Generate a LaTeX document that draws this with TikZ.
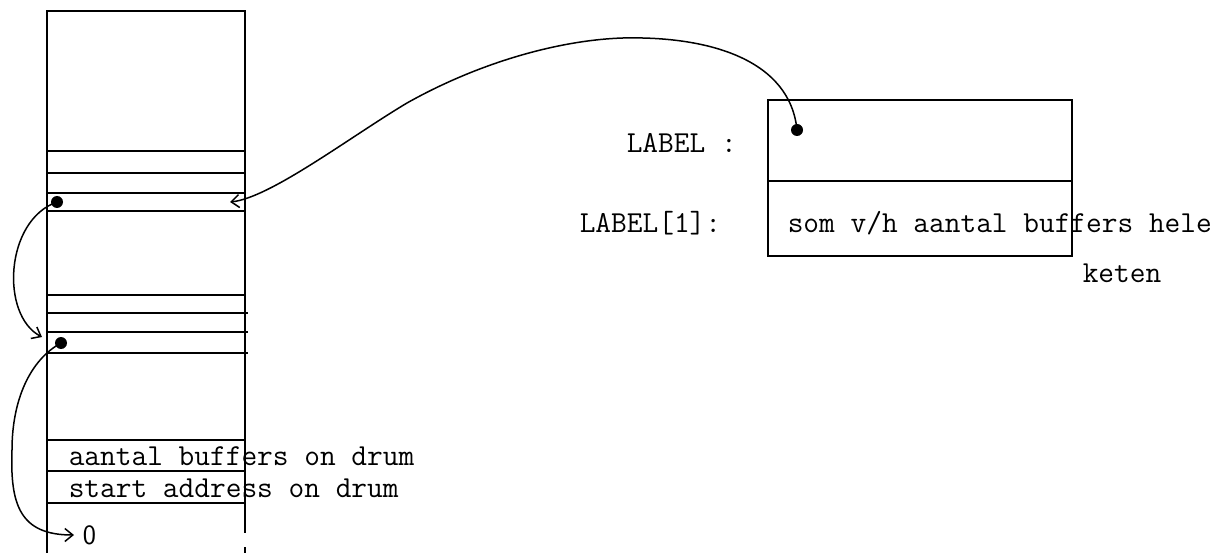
\documentclass[tikz,border=0pt]{standalone}
\usetikzlibrary{arrows.meta}
\begin{document}
\begin{tikzpicture}[x=1pt,y=-1pt, line width=1.5pt,
  txt/.style={font=\fontsize{30.5}{36}\selectfont\ttfamily, inner sep=0pt, anchor=base west},
  zerotxt/.style={font=\fontsize{28}{32}\selectfont\sffamily, inner sep=0pt, anchor=base west},
  dotnode/.style={circle, fill, inner sep=0pt, minimum size=12pt},
  barb/.style={-{Straight Barb[length=8pt,width=13pt,line width=1.5pt]}}]
\useasboundingbox (0,0) rectangle (1228,553);
% memory column
\draw (47,553) -- (47,11) -- (245,11) -- (245,533);
\draw (245,547) -- (245,553);
\foreach \y in {151,173,193,211,295,440,471,503} \draw (47,\y) -- (245,\y);
\foreach \y in {313,332,353} \draw (47,\y) -- (248,\y);
% LABEL box
\draw (768,100) rectangle (1072,256);
\draw (768,181) -- (1072,181);
% texts
\node[txt] (lab) at (626,153) {LABEL :};
\node[txt] (labone) at (579,233) {LABEL[1]:};
\node[txt] (val) at (787,233) {som v/h aantal buffers hele};
\node[txt] (ket) at (1082,283) {keten};
\node[txt] (tone) at (68,465) {aantal buffers on drum};
\node[txt] (ttwo) at (68,497) {start address on drum};
\node[zerotxt] (zero) at (82,544) {0};
% dots and arrow ends
\node[dotnode] (dz) at (797,130) {};
\node[dotnode] (done) at (57,202) {};
\node[dotnode] (dtwo) at (61,343) {};
\coordinate (az) at (230,202);
\coordinate (aone) at (42,337);
\coordinate (atwo) at (74,535);
% connectors
\draw[barb] (dz.center) .. controls (790,60) and (710,36) .. (623,38)
  .. controls (560,40) and (480,62) .. (407,103)
  .. controls (350,137) and (270,198) .. (az);
\draw[barb] (done.center) .. controls (5,220) and (0,315) .. (aone);
\draw[barb] (dtwo.center) .. controls (30,360) and (12,400) .. (12,450)
  .. controls (10,505) and (20,535) .. (atwo);
\end{tikzpicture}
\end{document}
